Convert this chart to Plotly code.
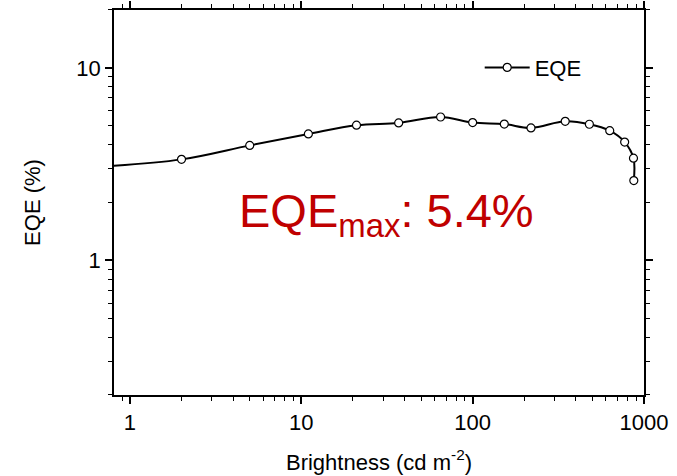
import plotly.graph_objects as go

# Data
brightness = [0.6, 2, 5, 11, 21, 37, 65, 100, 153, 219, 347, 480, 631, 771, 868, 872]
eqe = [3.05, 3.35, 3.96, 4.54, 5.04, 5.18, 5.56, 5.20, 5.11, 4.88, 5.28, 5.10, 4.72, 4.12, 3.40, 2.60]

x_tickvals = [1, 10, 100, 1000]
x_ticktext = ["1", "10", "100", "1000"]
y_tickvals = [1, 10]
y_ticktext = ["1", "10"]

FONT = "Liberation Sans, Arial, sans-serif"

fig = go.Figure()
fig.add_trace(go.Scatter(
    x=brightness, y=eqe, name="EQE",
    mode="lines+markers",
    line=dict(color="black", width=2, shape="spline"),
    marker=dict(symbol="circle", size=8, color="white",
                line=dict(color="black", width=1.2)),
))

fig.add_annotation(
    text="EQE<sub>max</sub>: 5.4%",
    xref="paper", yref="paper", x=0.233, y=0.47,
    xanchor="left", yanchor="middle", showarrow=False,
    font=dict(family=FONT, size=47, color="#C00000"),
)

axis_common = dict(
    type="log", automargin=False,
    showline=True, linecolor="black", linewidth=1.5,
    mirror="ticks", ticks="outside", ticklen=7, tickwidth=1.5, tickcolor="black",
    showgrid=False, zeroline=False,
    tickfont=dict(family=FONT, size=22, color="black"),
    minor=dict(ticks="outside", ticklen=4, tickwidth=1.2, tickcolor="black",
               dtick="D1", showgrid=False),
)

fig.update_xaxes(
    **axis_common,
    range=[-0.093, 3.0],
    tickvals=x_tickvals, ticktext=x_ticktext,
    title=dict(text="Brightness (cd m<sup>-2</sup>)",
               font=dict(family=FONT, size=22, color="black"), standoff=20),
)
fig.update_yaxes(
    **axis_common,
    range=[-0.699, 1.301],
    tickvals=y_tickvals, ticktext=y_ticktext,
    title=dict(text="EQE (%)", font=dict(family=FONT, size=22, color="black"), standoff=30),
)

fig.update_layout(
    width=677, height=476,
    margin=dict(l=114, r=33, t=10, b=81, autoexpand=False),
    plot_bgcolor="white", paper_bgcolor="white",
    showlegend=True,
    legend=dict(x=0.69, y=0.905, xanchor="left", yanchor="top",
                bgcolor="rgba(0,0,0,0)", itemwidth=45,
                font=dict(family=FONT, size=22, color="black")),
)

fig.write_html("out.html", config={"displayModeBar": False},
               post_script="document.body.style.margin='0';")
